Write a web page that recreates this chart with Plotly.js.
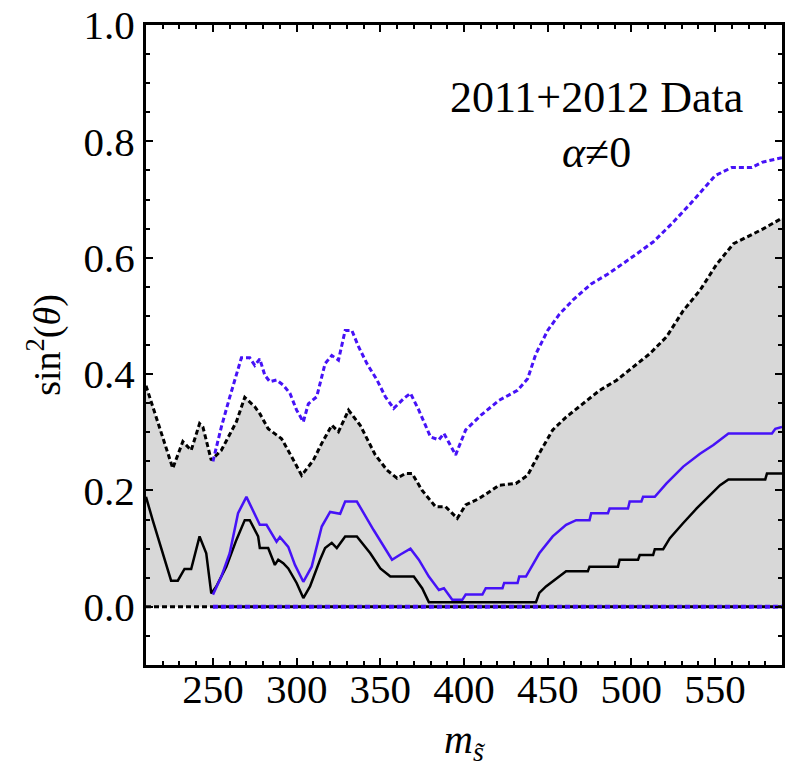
<!DOCTYPE html>
<html>
<head>
<meta charset="utf-8">
<script src="https://cdn.plot.ly/plotly-3.0.1.min.js"></script>
<style>html,body{margin:0;padding:0;background:#fff;}#chart{width:787px;height:767px;}</style>
</head>
<body>
<div id="chart"></div>
<script>
// Black dotted upper bound (edge of grey region)
const blackUpperX = [210, 226, 232, 237, 242, 244, 249, 255, 264, 269, 275, 278, 283, 291, 297, 303, 310, 315, 321, 325, 331, 338, 347, 354, 360, 365, 369, 375, 383, 389, 396, 401, 409, 421, 431, 438, 445, 453, 461, 471, 481, 491, 501, 511, 521, 531, 541, 551, 561, 571, 579, 590];
const blackUpperY = [0.38, 0.238, 0.284, 0.269, 0.315, 0.309, 0.252, 0.269, 0.318, 0.36, 0.344, 0.332, 0.306, 0.289, 0.258, 0.226, 0.252, 0.281, 0.312, 0.301, 0.338, 0.312, 0.261, 0.235, 0.221, 0.229, 0.229, 0.2, 0.172, 0.172, 0.152, 0.175, 0.186, 0.209, 0.212, 0.226, 0.264, 0.304, 0.326, 0.349, 0.372, 0.389, 0.412, 0.435, 0.464, 0.509, 0.544, 0.589, 0.624, 0.638, 0.65, 0.668];

// Blue dotted upper bound
const blueUpperX = [250, 255, 260, 267, 272, 275, 278, 281, 284, 288, 292, 296, 300, 304, 307, 312, 317, 321, 325, 329, 333, 337, 342, 348, 353, 358, 364, 368, 373, 380, 385, 388, 395, 401, 410, 421, 432, 438, 443, 450, 457, 465, 476, 486, 499, 513, 524, 535, 550, 560, 572, 578, 590];
const blueUpperY = [0.25, 0.309, 0.36, 0.428, 0.428, 0.415, 0.426, 0.398, 0.387, 0.39, 0.381, 0.367, 0.338, 0.318, 0.349, 0.361, 0.418, 0.432, 0.424, 0.475, 0.475, 0.447, 0.418, 0.39, 0.361, 0.341, 0.358, 0.367, 0.338, 0.292, 0.287, 0.298, 0.261, 0.304, 0.329, 0.355, 0.372, 0.392, 0.435, 0.475, 0.503, 0.527, 0.555, 0.572, 0.598, 0.627, 0.658, 0.692, 0.741, 0.755, 0.755, 0.764, 0.772];

// Blue solid central curve
const blueSolidX = [250, 255, 260, 265, 270, 278, 282, 288, 290, 295, 299, 304, 309, 315, 320, 326, 329, 336, 346, 357, 362, 368, 373, 379, 385, 388, 393, 399, 401, 411, 413, 423, 424, 432, 433, 437, 445, 453, 461, 467, 475, 476, 486, 487, 498, 499, 506, 507, 514, 521, 531, 541, 549, 558, 584, 586, 590];
const blueSolidY = [0.021, 0.052, 0.092, 0.161, 0.189, 0.141, 0.141, 0.112, 0.12, 0.103, 0.072, 0.043, 0.069, 0.138, 0.163, 0.16, 0.181, 0.181, 0.132, 0.081, 0.09, 0.1, 0.081, 0.052, 0.029, 0.032, 0.012, 0.012, 0.021, 0.021, 0.032, 0.032, 0.041, 0.041, 0.052, 0.052, 0.092, 0.121, 0.141, 0.149, 0.149, 0.161, 0.161, 0.169, 0.169, 0.181, 0.181, 0.189, 0.189, 0.212, 0.241, 0.263, 0.278, 0.298, 0.298, 0.306, 0.309];

// Black solid central curve
const blackSolidX = [210, 214, 225, 229, 233, 237, 242, 246, 249, 252, 258, 264, 269, 272, 277, 278, 283, 287, 289, 292, 295, 300, 304, 308, 314, 317, 321, 324, 329, 336, 344, 350, 356, 366, 370, 375, 379, 443, 445, 449, 453, 457, 461, 474, 475, 492, 493, 504, 505, 513, 514, 519, 523, 531, 539, 547, 553, 558, 580, 581, 590];
const blackSolidY = [0.189, 0.149, 0.045, 0.045, 0.065, 0.065, 0.121, 0.092, 0.023, 0.035, 0.069, 0.115, 0.149, 0.149, 0.121, 0.101, 0.101, 0.072, 0.081, 0.075, 0.066, 0.041, 0.015, 0.035, 0.081, 0.101, 0.11, 0.101, 0.121, 0.121, 0.092, 0.066, 0.052, 0.052, 0.052, 0.032, 0.008, 0.008, 0.024, 0.035, 0.044, 0.052, 0.061, 0.061, 0.069, 0.069, 0.081, 0.081, 0.089, 0.089, 0.099, 0.099, 0.118, 0.144, 0.169, 0.192, 0.209, 0.219, 0.219, 0.229, 0.229];

// Lower bounds (at zero)
const blackLowerX = [210, 590];
const blackLowerY = [0, 0];
const blueLowerX = [250, 590];
const blueLowerY = [0, 0];

const BLUE = '#4612f7';
const FONT = 'Liberation Serif, Times New Roman, serif';
const DOTS = '5px,3px';

const traces = [
  {x: blackUpperX, y: blackUpperY, mode: 'lines', fill: 'tozeroy', fillcolor: '#d8d8d8',
   line: {color: '#000', width: 3, dash: DOTS}, hoverinfo: 'skip'},
  {x: blueUpperX, y: blueUpperY, mode: 'lines', line: {color: BLUE, width: 3, dash: DOTS}},
  {x: blackLowerX, y: blackLowerY, mode: 'lines', line: {color: '#000', width: 3, dash: DOTS}},
  {x: blueLowerX, y: blueLowerY, mode: 'lines', line: {color: BLUE, width: 4, dash: DOTS}},
  {x: blackSolidX, y: blackSolidY, mode: 'lines', line: {color: '#000', width: 2.5}},
  {x: blueSolidX, y: blueSolidY, mode: 'lines', line: {color: BLUE, width: 2.5}}
];

const layout = {
  width: 787, height: 767,
  margin: {l: 146, r: 5, t: 25, b: 102},
  paper_bgcolor: '#fff', plot_bgcolor: '#fff',
  showlegend: false,
  font: {family: FONT, color: '#000', size: 40},
  xaxis: {
    range: [210, 590], tick0: 0, dtick: 50,
    ticks: 'inside', ticklen: 7, tickwidth: 2, tickcolor: '#000',
    showline: true, linewidth: 3, linecolor: '#000', mirror: 'ticks',
    showgrid: false, zeroline: false,
    ticklabelstandoff: -14,
    tickfont: {family: FONT, size: 41, color: '#000'},
    minor: {dtick: 10, ticks: 'inside', ticklen: 4, tickwidth: 2, tickcolor: '#000', showgrid: false},
    title: {text: '<i>m</i><sub><i>s̃</i></sub>', font: {family: FONT, size: 40, color: '#000'}, standoff: 28}
  },
  yaxis: {
    range: [-0.1, 1.0], tick0: 0, dtick: 0.2, tickformat: '.1f',
    ticks: 'inside', ticklen: 7, tickwidth: 2, tickcolor: '#000',
    showline: true, linewidth: 3, linecolor: '#000', mirror: 'ticks',
    showgrid: false, zeroline: false,
    tickfont: {family: FONT, size: 41, color: '#000'},
    minor: {dtick: 0.05, ticks: 'inside', ticklen: 4, tickwidth: 2, tickcolor: '#000', showgrid: false},
    title: {text: 'sin<sup>2</sup>(<i>θ</i>)', font: {family: FONT, size: 38, color: '#000'}, standoff: 12}
  },
  annotations: [
    {xref: 'paper', yref: 'paper', x: 0.709, y: 0.886, xanchor: 'center', yanchor: 'middle',
     text: '2011+2012 Data', showarrow: false, font: {family: FONT, size: 44, color: '#000'}},
    {xref: 'paper', yref: 'paper', x: 0.709, y: 0.8, xanchor: 'center', yanchor: 'middle',
     text: '<i>α</i>≠0', showarrow: false, font: {family: FONT, size: 44, color: '#000'}}
  ]
};

Plotly.newPlot('chart', traces, layout, {staticPlot: true, displayModeBar: false});
</script>
</body>
</html>
